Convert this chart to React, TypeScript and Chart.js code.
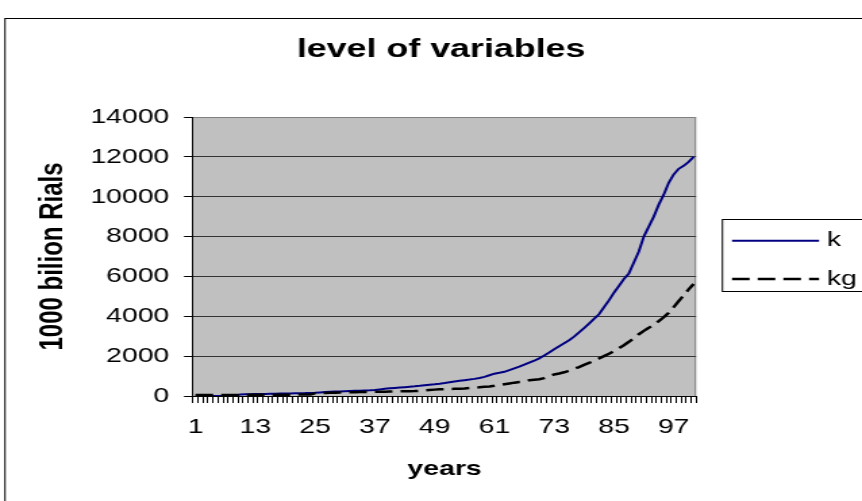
import { useEffect, useRef } from "react";
import { Chart, registerables } from "chart.js";

Chart.register(...registerables);

// ---------- data ----------
const chartTitle = "level of variables";
const yTitle = "1000 bilion Rials";
const xTitle = "years";

const years: string[] = Array.from({ length: 101 }, (_, i) => String(i + 1));
const xTickLabels = ["1", "13", "25", "37", "49", "61", "73", "85", "97"];

const kLabel = "k";
const kValues = [
  40, 40, 30, 10, 5, 5, 5, 5, 10, 80,
  85, 90, 95, 100, 105, 110, 115, 120, 125, 130,
  135, 140, 145, 155, 165, 180, 195, 210, 220, 230,
  240, 250, 260, 268, 275, 285, 300, 330, 360, 385,
  405, 425, 445, 465, 485, 510, 540, 570, 590, 615,
  650, 690, 730, 765, 795, 825, 860, 905, 960, 1040,
  1120, 1165, 1215, 1300, 1390, 1470, 1570, 1680, 1770, 1890,
  2030, 2180, 2340, 2500, 2650, 2800, 2980, 3190, 3410, 3630,
  3870, 4100, 4450, 4800, 5180, 5520, 5870, 6150, 6700, 7250,
  8000, 8500, 9000, 9600, 10100, 10700, 11120, 11400, 11550, 11750,
  12000,
];

const kgLabel = "kg";
const kgValues = [
  50, 50, 50, 50, 50, 55, 55, 55, 55, 55,
  60, 60, 60, 60, 60, 65, 65, 65, 65, 65,
  70, 70, 70, 70, 140, 150, 155, 160, 165, 170,
  178, 185, 190, 195, 200, 205, 210, 213, 217, 222,
  227, 232, 237, 242, 247, 260, 280, 300, 320, 335,
  345, 352, 358, 365, 380, 400, 420, 440, 460, 480,
  510, 545, 590, 630, 670, 705, 725, 790, 815, 840,
  900, 990, 1080, 1130, 1190, 1270, 1360, 1450, 1560, 1660,
  1760, 1880, 2000, 2120, 2250, 2400, 2550, 2720, 2900, 3100,
  3270, 3420, 3580, 3760, 3950, 4180, 4460, 4760, 5050, 5350,
  5620,
];

const yMin = 0;
const yMax = 14000;
const yStep = 2000;

// ---------- layout (canvas is drawn narrow and stretched horizontally, like the source) ----------
const CSS_W = 862;
const CSS_H = 501;
const W = 638;
const H = 501;
const FONT = '"Liberation Sans", Arial, sans-serif';

const excelLook = {
  id: "excelLook",
  beforeDraw(chart: any) {
    const { ctx, chartArea: a } = chart;
    ctx.save();
    ctx.fillStyle = "#ffffff";
    ctx.fillRect(0, 0, chart.width, chart.height);
    // outer chart border
    ctx.strokeStyle = "#000000";
    ctx.lineWidth = 1;
    ctx.strokeRect(3.7, 18.5, chart.width + 20, chart.height + 20);
    // plot area
    ctx.fillStyle = "#C0C0C0";
    ctx.fillRect(a.left, a.top, a.right - a.left, a.bottom - a.top);
    ctx.strokeStyle = "#808080";
    ctx.beginPath();
    ctx.moveTo(a.left, a.top + 0.5);
    ctx.lineTo(a.right - 0.5, a.top + 0.5);
    ctx.lineTo(a.right - 0.5, a.bottom);
    ctx.stroke();
    ctx.restore();
  },
  afterDraw(chart: any) {
    const { ctx } = chart;
    ctx.save();
    // title
    ctx.fillStyle = "#000";
    ctx.font = `bold 26.5px ${FONT}`;
    ctx.textAlign = "center";
    ctx.textBaseline = "alphabetic";
    ctx.fillText(chartTitle, 326.5, 56.5);

    // legend
    const lx = 534.2;
    const ly = 219.5;
    ctx.strokeStyle = "#000";
    ctx.lineWidth = 1;
    ctx.strokeRect(lx + 0.5, ly, 200, 72);
    const ds = chart.data.datasets;
    const rows = [240.7, 279];
    ds.forEach((d: any, i: number) => {
      ctx.save();
      ctx.strokeStyle = d.borderColor;
      ctx.lineWidth = d.borderWidth;
      ctx.setLineDash(d.borderDash || []);
      ctx.beginPath();
      ctx.moveTo(541.8, rows[i]);
      ctx.lineTo(606.2, rows[i]);
      ctx.stroke();
      ctx.restore();
      ctx.fillStyle = "#000";
      ctx.font = `21px ${FONT}`;
      ctx.textAlign = "left";
      ctx.textBaseline = "middle";
      ctx.fillText(d.label, 611.9, rows[i]);
    });
    ctx.restore();
  },
};

export default function App() {
  const ref = useRef<HTMLCanvasElement | null>(null);

  useEffect(() => {
    if (!ref.current) return;
    const chart = new Chart(ref.current, {
      type: "line",
      data: {
        labels: years,
        datasets: [
          {
            label: kLabel,
            data: kValues,
            borderColor: "#000080",
            borderWidth: 2,
            pointRadius: 0,
            tension: 0,
            fill: false,
            order: 1,
          },
          {
            label: kgLabel,
            data: kgValues,
            borderColor: "#000000",
            borderWidth: 2.5,
            borderDash: [13, 6],
            pointRadius: 0,
            tension: 0,
            fill: false,
            order: 0,
          },
        ],
      },
      options: {
        animation: false,
        responsive: false,
        maintainAspectRatio: false,
        devicePixelRatio: 1,
        layout: { padding: { left: 0, top: 117, right: W - 515.2, bottom: 0 } },
        plugins: {
          legend: { display: false },
          title: { display: false },
          tooltip: { enabled: false },
        },
        scales: {
          x: {
            type: "category",
            offset: true,
            afterFit: (s: any) => {
              s.height = H - 396;
            },
            grid: {
              display: true,
              offset: true,
              drawOnChartArea: false,
              drawTicks: true,
              tickLength: 7,
              tickColor: "#000",
              tickWidth: 1,
            },
            border: { display: true, color: "#000", width: 1 },
            ticks: {
              autoSkip: false,
              maxRotation: 0,
              minRotation: 0,
              padding: 11.4,
              color: "#000",
              font: { family: FONT, size: 21 },
              callback: function (this: any, _v: any, i: number) {
                const lab = years[i];
                return xTickLabels.includes(lab) ? lab : "";
              },
            },
            title: {
              display: true,
              text: xTitle,
              color: "#000",
              font: { family: FONT, size: 21, weight: "bold" },
              padding: { top: 0, bottom: 19.5 },
            },
          },
          y: {
            min: yMin,
            max: yMax,
            afterFit: (s: any) => {
              s.width = 142.9;
            },
            grid: {
              display: true,
              drawOnChartArea: true,
              drawTicks: true,
              tickLength: 6.7,
              tickColor: "#000",
              color: (c: any) => (c.tick && c.tick.value === yMax ? "#808080" : "#333333"),
              lineWidth: 1,
            },
            border: { display: true, color: "#000", width: 1 },
            ticks: {
              stepSize: yStep,
              padding: 10.9,
              color: "#000",
              font: { family: FONT, size: 21 },
              callback: (v: any) => String(v),
            },
            title: {
              display: true,
              text: yTitle,
              color: "#000",
              font: { family: FONT, size: 24, weight: "bold" },
              padding: { top: 24.5, bottom: 0 },
            },
          },
        },
      },
      plugins: [excelLook],
    });
    return () => chart.destroy();
  }, []);

  return (
    <div style={{ position: "absolute", left: 0, top: 0, width: CSS_W, height: CSS_H, overflow: "hidden" }}>
      <canvas
        ref={ref}
        width={W}
        height={H}
        style={{ width: `${CSS_W}px`, height: `${CSS_H}px`, display: "block" }}
      />
    </div>
  );
}
